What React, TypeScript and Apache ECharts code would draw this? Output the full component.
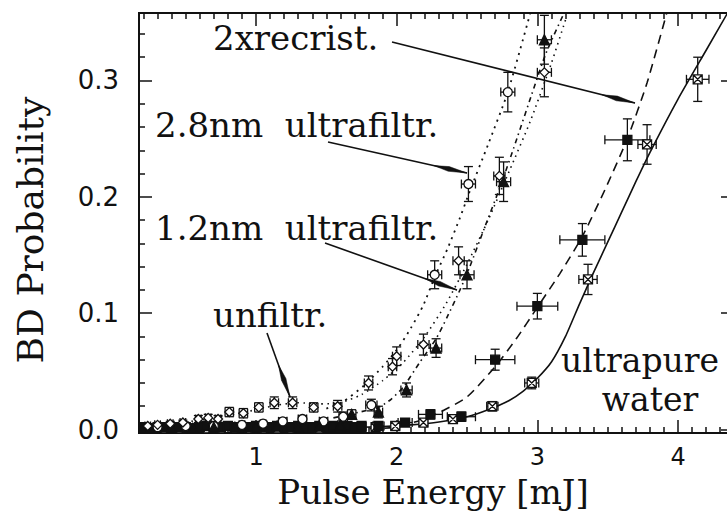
import React, { useEffect, useRef } from "react";
import * as echarts from "echarts";

// ---- axis ticks ----
const xMajorTicks = [1, 2, 3, 4];
const xMinorTicks = [0.2, 0.3, 0.4, 0.5, 0.6, 0.7, 0.8, 0.9, 1.1, 1.2, 1.3, 1.4, 1.5, 1.6, 1.7, 1.8, 1.9, 2.1, 2.2, 2.3, 2.4, 2.5, 2.6, 2.7, 2.8, 2.9, 3.1, 3.2, 3.3, 3.4, 3.5, 3.6, 3.7, 3.8, 3.9, 4.1, 4.2, 4.3];
const yMajorTicks = [0, 0.1, 0.2, 0.3];
const yMinorTicks = [0.02, 0.04, 0.06, 0.08, 0.12, 0.14, 0.16, 0.18, 0.22, 0.24, 0.26, 0.28, 0.32, 0.34];

// ---- ultrapure water (crossed squares) ----
const upE = [0.25, 0.35, 0.45, 0.55, 0.65, 0.75, 0.85, 0.95, 1.05, 1.15, 1.25, 1.35, 1.45, 1.55, 1.65, 1.75, 1.85, 1.99, 2.19, 2.40, 2.68, 2.96, 3.36, 3.78, 4.14];
const upP = [0.001, 0.001, 0.001, 0.001, 0.001, 0.001, 0.001, 0.001, 0.001, 0.001, 0.001, 0.002, 0.001, 0.002, 0.002, 0.002, 0.002, 0.003, 0.006, 0.009, 0.020, 0.040, 0.129, 0.245, 0.301];
const upEx = [0.02, 0.02, 0.02, 0.02, 0.02, 0.02, 0.02, 0.02, 0.02, 0.02, 0.02, 0.02, 0.02, 0.02, 0.02, 0.02, 0.02, 0.03, 0.03, 0.03, 0.04, 0.05, 0.065, 0.065, 0.08];
const upEy = [0.001, 0.001, 0.001, 0.001, 0.001, 0.001, 0.001, 0.001, 0.001, 0.001, 0.001, 0.002, 0.001, 0.002, 0.002, 0.002, 0.002, 0.002, 0.003, 0.003, 0.004, 0.005, 0.013, 0.017, 0.019];
const upFitE = [0.17, 1.0, 1.6, 1.9, 2.1, 2.3, 2.5, 2.65, 2.8, 2.9, 3.0, 3.1, 3.2, 3.3, 3.4, 3.5, 3.6, 3.7, 3.8, 4.0, 4.2, 4.4];
const upFitP = [0.0005, 0.0008, 0.0015, 0.0025, 0.004, 0.0065, 0.011, 0.017, 0.025, 0.033, 0.044, 0.058, 0.080, 0.108, 0.135, 0.161, 0.187, 0.213, 0.238, 0.284, 0.326, 0.368];

// ---- 2x recrystallised (filled squares) ----
const rcE = [0.20, 0.25, 0.30, 0.35, 0.40, 0.45, 0.50, 0.55, 0.60, 0.65, 0.70, 0.75, 0.80, 0.85, 0.90, 0.95, 1.00, 1.05, 1.10, 1.15, 1.20, 1.25, 1.30, 1.35, 1.40, 1.45, 1.50, 1.55, 1.60, 1.65, 1.70, 1.75, 1.87, 2.06, 2.24, 2.46, 2.70, 3.00, 3.32, 3.64];
const rcP = [0.002, 0.001, 0.002, 0.002, 0.001, 0.002, 0.002, 0.001, 0.002, 0.003, 0.002, 0.002, 0.003, 0.002, 0.001, 0.002, 0.003, 0.002, 0.002, 0.003, 0.002, 0.002, 0.003, 0.002, 0.002, 0.003, 0.002, 0.003, 0.002, 0.003, 0.002, 0.003, 0.003, 0.006, 0.013, 0.011, 0.060, 0.106, 0.163, 0.249];
const rcEx = [0.02, 0.02, 0.02, 0.02, 0.02, 0.02, 0.02, 0.02, 0.02, 0.02, 0.02, 0.02, 0.02, 0.02, 0.02, 0.02, 0.02, 0.02, 0.02, 0.02, 0.02, 0.02, 0.02, 0.02, 0.02, 0.02, 0.02, 0.02, 0.02, 0.02, 0.02, 0.02, 0.04, 0.05, 0.085, 0.10, 0.14, 0.145, 0.16, 0.16];
const rcEy = [0.001, 0.001, 0.001, 0.001, 0.001, 0.001, 0.001, 0.001, 0.001, 0.002, 0.001, 0.001, 0.002, 0.001, 0.001, 0.001, 0.002, 0.001, 0.001, 0.002, 0.001, 0.001, 0.002, 0.001, 0.001, 0.002, 0.001, 0.002, 0.001, 0.002, 0.001, 0.002, 0.003, 0.003, 0.004, 0.004, 0.009, 0.011, 0.014, 0.018];
const rcFitE = [1.7, 1.9, 2.0, 2.17, 2.31, 2.5, 2.7, 2.85, 3.0, 3.16, 3.32, 3.48, 3.64, 3.78, 3.92];
const rcFitP = [0.0005, 0.001, 0.002, 0.008, 0.015, 0.028, 0.054, 0.078, 0.105, 0.134, 0.166, 0.206, 0.250, 0.298, 0.358];

// ---- 2.8 nm ultrafiltered (open circles) ----
const u28E = [0.30, 0.50, 0.70, 0.90, 1.05, 1.19, 1.33, 1.48, 1.62, 1.82, 2.27, 2.51, 2.79];
const u28P = [0.002, 0.003, 0.003, 0.004, 0.005, 0.007, 0.009, 0.007, 0.011, 0.021, 0.133, 0.211, 0.290];
const u28Ex = [0.02, 0.02, 0.02, 0.02, 0.02, 0.03, 0.03, 0.03, 0.03, 0.04, 0.05, 0.05, 0.05];
const u28Ey = [0.002, 0.002, 0.002, 0.002, 0.002, 0.003, 0.003, 0.003, 0.004, 0.005, 0.012, 0.015, 0.017];
const u28FitE = [1.50, 1.62, 1.77, 1.90, 2.01, 2.10, 2.19, 2.27, 2.36, 2.45, 2.52, 2.65, 2.79, 2.95];
const u28FitP = [0.018, 0.024, 0.038, 0.054, 0.070, 0.087, 0.107, 0.131, 0.155, 0.182, 0.205, 0.245, 0.290, 0.358];

// ---- 1.2 nm ultrafiltered (filled triangles) ----
const u12E = [0.25, 0.40, 0.55, 0.70, 0.85, 1.00, 1.15, 1.30, 1.45, 1.60, 1.68, 1.87, 2.07, 2.28, 2.50, 2.76, 3.05];
const u12P = [0.001, 0.002, 0.001, 0.002, 0.002, 0.002, 0.003, 0.002, 0.003, 0.004, 0.013, 0.015, 0.034, 0.070, 0.133, 0.213, 0.335];
const u12Ex = [0.02, 0.02, 0.02, 0.02, 0.02, 0.02, 0.02, 0.02, 0.02, 0.02, 0.03, 0.03, 0.04, 0.04, 0.05, 0.05, 0.05];
const u12Ey = [0.001, 0.001, 0.001, 0.001, 0.001, 0.001, 0.002, 0.001, 0.002, 0.002, 0.004, 0.005, 0.006, 0.008, 0.012, 0.017, 0.021];
const u12FitE = [1.55, 1.70, 1.87, 1.96, 2.05, 2.16, 2.28, 2.36, 2.45, 2.52, 2.62, 2.74, 2.86, 2.96, 3.06, 3.19];
const u12FitP = [0.010, 0.014, 0.019, 0.026, 0.037, 0.057, 0.078, 0.097, 0.120, 0.140, 0.172, 0.210, 0.252, 0.288, 0.323, 0.358];

// ---- unfiltered (open diamonds) ----
const ufE = [0.23, 0.30, 0.39, 0.48, 0.59, 0.66, 0.73, 0.81, 0.91, 1.02, 1.13, 1.26, 1.41, 1.58, 1.80, 1.97, 2.00, 2.19, 2.44, 2.73, 3.05];
const ufP = [0.003, 0.004, 0.005, 0.006, 0.009, 0.010, 0.009, 0.015, 0.014, 0.019, 0.023, 0.023, 0.019, 0.020, 0.040, 0.054, 0.063, 0.073, 0.145, 0.218, 0.307];
const ufEx = [0.02, 0.02, 0.02, 0.02, 0.02, 0.02, 0.02, 0.03, 0.03, 0.03, 0.03, 0.03, 0.03, 0.03, 0.03, 0.03, 0.03, 0.04, 0.04, 0.04, 0.05];
const ufEy = [0.002, 0.002, 0.002, 0.002, 0.003, 0.003, 0.003, 0.004, 0.004, 0.004, 0.005, 0.005, 0.004, 0.005, 0.006, 0.007, 0.008, 0.009, 0.012, 0.016, 0.021];
const ufFitE = [0.2, 0.4, 0.6, 0.8, 1.0, 1.15, 1.3, 1.45, 1.6, 1.75, 1.9, 2.05, 2.2, 2.35, 2.5, 2.65, 2.8, 2.95, 3.1, 3.2];
const ufFitP = [0.003, 0.005, 0.008, 0.012, 0.017, 0.021, 0.023, 0.022, 0.023, 0.030, 0.042, 0.058, 0.080, 0.108, 0.142, 0.180, 0.222, 0.265, 0.315, 0.352];

// ---- texts ----
const xTitle = "Pulse Energy [mJ]";
const yTitle = "BD Probability";
const labels = ["2xrecrist.", "2.8nm  ultrafiltr.", "1.2nm  ultrafiltr.", "unfiltr.", "ultrapure", "water"];

const X_MIN = 0.168;
const X_MAX = 4.398;
const Y_MIN = -0.003;
const Y_MAX = 0.358;

const SERIF = '"DejaVu Serif", serif';
const SANS = '"DejaVu Sans", sans-serif';
const INK = "#111";

const zip2 = (a: number[], b: number[]) => a.map((v, i) => [v, b[i]]);
const zip4 = (a: number[], b: number[], c: number[], d: number[]) => a.map((v, i) => [v, b[i], c[i], d[i]]);

function errRender(_params: any, api: any) {
  const x = api.value(0), y = api.value(1), ex = api.value(2), ey = api.value(3);
  const p = api.coord([x, y]);
  const pt = api.coord([x, y + ey]);
  const pb = api.coord([x, y - ey]);
  const pl = api.coord([x - ex, y]);
  const pr = api.coord([x + ex, y]);
  const cap = 4.5;
  const st = { stroke: INK, lineWidth: 1.3 };
  const ch: any[] = [];
  ch.push({ type: "line", shape: { x1: p[0], y1: pt[1], x2: p[0], y2: pb[1] }, style: st });
  ch.push({ type: "line", shape: { x1: p[0] - cap, y1: pt[1], x2: p[0] + cap, y2: pt[1] }, style: st });
  ch.push({ type: "line", shape: { x1: p[0] - cap, y1: pb[1], x2: p[0] + cap, y2: pb[1] }, style: st });
  ch.push({ type: "line", shape: { x1: pl[0], y1: p[1], x2: pr[0], y2: p[1] }, style: st });
  ch.push({ type: "line", shape: { x1: pl[0], y1: p[1] - cap, x2: pl[0], y2: p[1] + cap }, style: st });
  ch.push({ type: "line", shape: { x1: pr[0], y1: p[1] - cap, x2: pr[0], y2: p[1] + cap }, style: st });
  return { type: "group", children: ch };
}

function errSeries(e: number[], p: number[], ex: number[], ey: number[]) {
  return {
    type: "custom",
    renderItem: errRender,
    data: zip4(e, p, ex, ey),
    encode: { x: 0, y: 1 },
    clip: true,
    z: 3,
    silent: true,
  };
}

function markSeries(e: number[], p: number[], symbol: string, fill: string, size: number) {
  return {
    type: "scatter",
    data: zip2(e, p),
    symbol,
    symbolSize: size,
    itemStyle: { color: fill, borderColor: INK, borderWidth: 1.3, opacity: 1 },
    clip: true,
    z: 4,
    silent: true,
  };
}

function fitSeries(e: number[], p: number[], dash: any, width = 1.5) {
  return {
    type: "line",
    data: zip2(e, p),
    showSymbol: false,
    symbol: "none",
    smooth: 0.2,
    lineStyle: { color: INK, width, type: dash },
    clip: true,
    z: 2,
    silent: true,
  };
}

function arrow(x1: number, y1: number, x2: number, y2: number) {
  const dx = x2 - x1, dy = y2 - y1;
  const L = Math.sqrt(dx * dx + dy * dy);
  const ux = dx / L, uy = dy / L;
  const nx = -uy, ny = ux;
  const head = 34, w = 2.4;
  const bx = x2 - ux * head, by = y2 - uy * head;
  const mx = x2 - ux * head * 0.55, my = y2 - uy * head * 0.55;
  return [
    { type: "line", shape: { x1, y1, x2, y2 }, style: { stroke: INK, lineWidth: 1.6 }, z: 10 },
    {
      type: "polygon",
      shape: { points: [[bx, by], [mx + nx * w, my + ny * w], [x2, y2], [mx - nx * w, my - ny * w]] },
      style: { fill: INK, stroke: INK, lineWidth: 0.5 },
      z: 10,
    },
  ];
}

function textEl(text: string, x: number, y: number, size: number, align = "left", family = SERIF, rotation = 0, lineHeight = size) {
  return {
    type: "text",
    x,
    y,
    rotation,
    z: 10,
    style: { text, fontSize: size, fontFamily: family, fill: INK, align, verticalAlign: "middle", lineHeight },
  };
}

const crossSquare = "path://M0,0L10,0L10,10L0,10Z M0,0L10,10 M10,0L0,10";

const tickStyle = { color: INK, width: 1.5 };
const baseAxis = {
  type: "value",
  splitLine: { show: false },
  axisLine: { show: true, onZero: false, lineStyle: { color: INK, width: 2 } },
};

function mkX(position: string, ticks: number[], len: number, showLabel: boolean) {
  return {
    ...baseAxis,
    min: X_MIN,
    max: X_MAX,
    position,
    gridIndex: 0,
    axisTick: { show: true, inside: true, length: len, customValues: ticks, lineStyle: tickStyle },
    axisLabel: showLabel
      ? { show: true, customValues: xMajorTicks, margin: 13, fontFamily: SANS, fontSize: 24, lineHeight: 22, color: INK, formatter: (v: number) => String(Math.round(v)) }
      : { show: false },
  };
}
function mkY(position: string, ticks: number[], len: number, showLabel: boolean) {
  return {
    ...baseAxis,
    min: Y_MIN,
    max: Y_MAX,
    position,
    gridIndex: 0,
    axisTick: { show: true, inside: true, length: len, customValues: ticks, lineStyle: tickStyle },
    axisLabel: showLabel
      ? { show: true, customValues: yMajorTicks, margin: 20, fontFamily: SANS, fontSize: 26, lineHeight: 26, color: INK, formatter: (v: number) => v.toFixed(1) }
      : { show: false },
  };
}

export default function App() {
  const ref = useRef<HTMLDivElement>(null);
  useEffect(() => {
    document.body.style.margin = "0";
    const chart = echarts.init(ref.current!, null, { renderer: "svg" });
    const option: any = {
      animation: false,
      backgroundColor: "#fff",
      grid: { left: 139, top: 13, width: 595, height: 420, containLabel: false, outerBoundsMode: "none" },
      xAxis: [
        mkX("bottom", xMinorTicks, 6, false),
        mkX("bottom", xMajorTicks, 13, true),
        mkX("top", xMinorTicks, 6, false),
        mkX("top", xMajorTicks, 13, false),
      ],
      yAxis: [
        mkY("left", yMinorTicks, 6, false),
        mkY("left", yMajorTicks, 13, true),
        mkY("right", yMinorTicks, 6, false),
        mkY("right", yMajorTicks, 13, false),
      ],
      series: [
        fitSeries(upFitE, upFitP, "solid", 1.6),
        fitSeries(rcFitE, rcFitP, [9, 6], 1.6),
        fitSeries(u28FitE, u28FitP, [2, 5], 1.8),
        fitSeries(u12FitE, u12FitP, [5, 4, 1.5, 4], 1.6),
        fitSeries(ufFitE, ufFitP, [1.5, 4.5], 1.6),
        errSeries(upE, upP, upEx, upEy),
        errSeries(rcE, rcP, rcEx, rcEy),
        errSeries(u28E, u28P, u28Ex, u28Ey),
        errSeries(u12E, u12P, u12Ex, u12Ey),
        errSeries(ufE, ufP, ufEx, ufEy),
        markSeries(upE, upP, crossSquare, "#fff", 9),
        markSeries(rcE, rcP, "rect", INK, 9),
        markSeries(u28E, u28P, "circle", "#fff", 9),
        markSeries(u12E, u12P, "triangle", INK, 10),
        markSeries(ufE, ufP, "diamond", "#fff", 9),
      ],
      graphic: [
        textEl(labels[0], 213, 38, 34),
        textEl(labels[1], 155, 125, 34),
        textEl(labels[2], 155, 228, 34),
        textEl(labels[3], 213, 315, 34),
        textEl(labels[4], 640, 360, 33, "center", SERIF, 0, 33),
        textEl(labels[5], 650, 399, 33, "center", SERIF, 0, 33),
        ...arrow(392, 42, 635, 103),
        ...arrow(328, 142, 467, 173),
        ...arrow(325, 243, 457, 290),
        ...arrow(267, 333, 290, 397),
        textEl(xTitle, 433, 492, 34, "center"),
        textEl(yTitle, 30, 230, 36, "center", SERIF, Math.PI / 2),
      ],
    };
    chart.setOption(option);
    return () => chart.dispose();
  }, []);
  return <div ref={ref} style={{ width: 727, height: 511, position: "absolute", left: 0, top: 0 }} />;
}
